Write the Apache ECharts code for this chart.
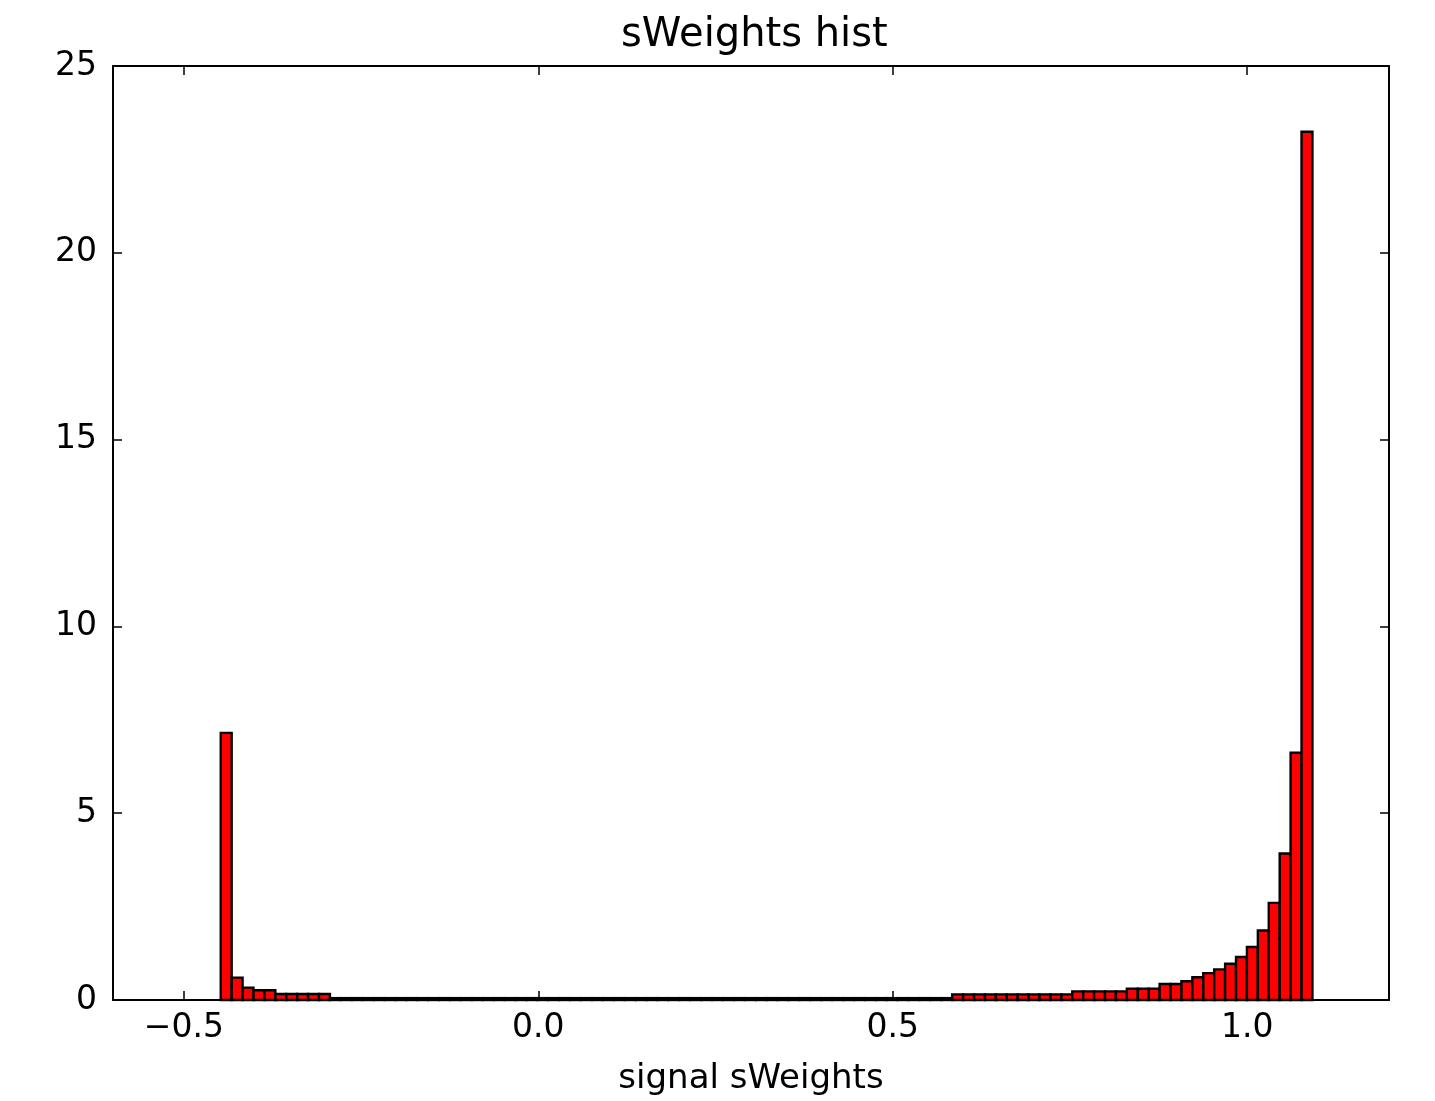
<!DOCTYPE html>
<html>
<head>
<meta charset="utf-8">
<script src="https://cdn.jsdelivr.net/npm/echarts@6/dist/echarts.min.js"></script>
<style>
html,body{margin:0;padding:0;background:#fff;}
#chart{width:1435px;height:1101px;}
</style>
</head>
<body>
<div id="chart"></div>
<script>
// Histogram bins: start of the first bin and bin width (in x units)
const binStart = -0.448;
const binWidth = 0.0154;
// Bin heights (density), 100 bins
const binValues = [
  7.15, 0.60, 0.33, 0.26, 0.26, 0.16, 0.16, 0.16, 0.16, 0.16,
  0.05, 0.05, 0.05, 0.05, 0.05, 0.05, 0.05, 0.05, 0.05, 0.05,
  0.05, 0.05, 0.05, 0.05, 0.05, 0.05, 0.05, 0.05, 0.05, 0.05,
  0.05, 0.05, 0.05, 0.05, 0.05, 0.05, 0.05, 0.05, 0.05, 0.05,
  0.05, 0.05, 0.05, 0.05, 0.05, 0.05, 0.05, 0.05, 0.05, 0.05,
  0.05, 0.05, 0.05, 0.05, 0.05, 0.05, 0.05, 0.05, 0.05, 0.05,
  0.05, 0.05, 0.05, 0.05, 0.05, 0.05, 0.05, 0.15, 0.15, 0.15,
  0.15, 0.15, 0.15, 0.15, 0.15, 0.15, 0.15, 0.15, 0.23, 0.23,
  0.23, 0.23, 0.23, 0.30, 0.30, 0.30, 0.43, 0.43, 0.50, 0.61,
  0.72, 0.82, 0.97, 1.15, 1.42, 1.86, 2.60, 3.92, 6.62, 23.24
];
const xTicks = [-0.5, 0.0, 0.5, 1.0];
const xMin = -0.6, xMax = 1.2;
const yMin = 0, yMax = 25, yStep = 5;
const titleText = 'sWeights hist';
const xName = 'signal sWeights';

const histData = binValues.map((v, i) => [binStart + i * binWidth, binStart + (i + 1) * binWidth, v]);

const FONT = 'DejaVu Sans';
const chart = echarts.init(document.getElementById('chart'), null, {renderer: 'canvas'});
const fmtX = v => {
  const s = Number(v).toFixed(1);
  return s.replace('-', '\u2212');
};
chart.setOption({
  animation: false,
  backgroundColor: '#ffffff',
  title: {
    text: titleText, left: 616, top: 11,
    textStyle: {fontFamily: FONT, fontSize: 40, fontWeight: 'normal', color: '#000'}
  },
  grid: {left: 113, right: 46, top: 66, bottom: 98, show: false},
  xAxis: [{
    type: 'value', min: xMin, max: xMax, position: 'bottom',
    name: xName, nameLocation: 'middle', nameGap: 62,
    nameTextStyle: {fontFamily: FONT, fontSize: 34, color: '#000'},
    axisLine: {show: true, onZero: false, lineStyle: {color: '#000', width: 2}},
    axisTick: {show: true, inside: true, length: 9, customValues: xTicks, lineStyle: {color: '#000', width: 1.5}},
    axisLabel: {show: true, customValues: xTicks, margin: 12, formatter: fmtX,
      fontFamily: FONT, fontSize: 33, color: '#000'},
    splitLine: {show: false}
  }, {
    type: 'value', min: xMin, max: xMax, position: 'top',
    axisLine: {show: true, onZero: false, lineStyle: {color: '#000', width: 2}},
    axisTick: {show: true, inside: true, length: 9, customValues: xTicks, lineStyle: {color: '#000', width: 1.5}},
    axisLabel: {show: false},
    splitLine: {show: false}
  }],
  yAxis: [{
    type: 'value', min: yMin, max: yMax, interval: yStep, position: 'left',
    axisLine: {show: true, onZero: false, lineStyle: {color: '#000', width: 2}},
    axisTick: {show: true, inside: true, length: 9, lineStyle: {color: '#000', width: 1.5}},
    axisLabel: {show: true, margin: 16, fontFamily: FONT, fontSize: 33, color: '#000'},
    splitLine: {show: false}
  }, {
    type: 'value', min: yMin, max: yMax, interval: yStep, position: 'right',
    axisLine: {show: true, onZero: false, lineStyle: {color: '#000', width: 2}},
    axisTick: {show: true, inside: true, length: 9, lineStyle: {color: '#000', width: 1.5}},
    axisLabel: {show: false},
    splitLine: {show: false}
  }],
  series: [{
    type: 'custom',
    xAxisIndex: 0, yAxisIndex: 0,
    encode: {x: [0, 1], y: 2},
    data: histData,
    renderItem: function (params, api) {
      const p0 = api.coord([api.value(0), api.value(2)]);
      const p1 = api.coord([api.value(1), 0]);
      return {
        type: 'rect',
        shape: {x: p0[0], y: p0[1], width: p1[0] - p0[0], height: p1[1] - p0[1]},
        style: {fill: '#ff0000', stroke: '#000', lineWidth: 2.4}
      };
    }
  }]
});
</script>
</body>
</html>
